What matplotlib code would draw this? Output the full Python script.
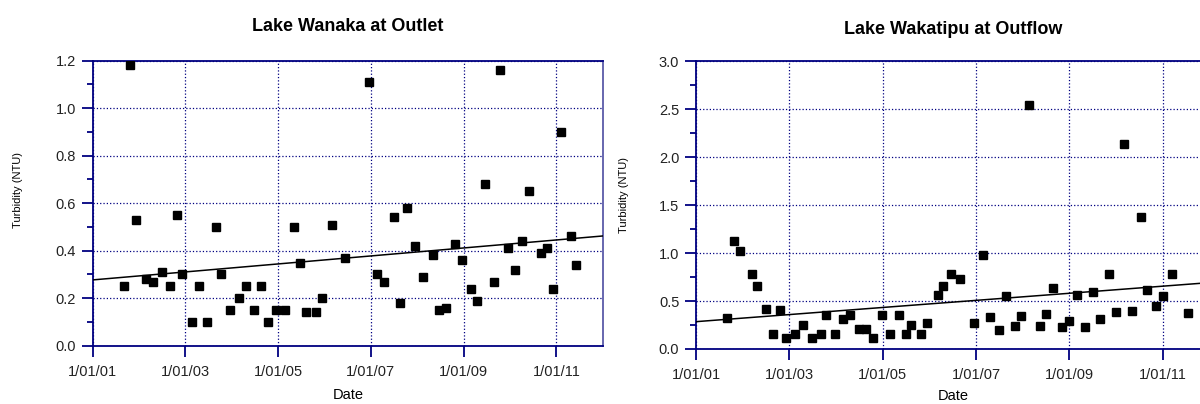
import matplotlib
matplotlib.use("Agg")
import matplotlib.pyplot as plt
import pandas as pd
import numpy as np

plt.rcParams['font.family'] = ['Liberation Sans', 'DejaVu Sans']

# ---- data ----
wanaka_dates = [2001.67, 2001.80, 2001.93, 2002.14, 2002.31, 2002.50, 2002.66, 2002.81, 2002.93, 2003.14,
                2003.29, 2003.46, 2003.67, 2003.77, 2003.97, 2004.15, 2004.30, 2004.48, 2004.63, 2004.78,
                2004.96, 2005.14, 2005.34, 2005.46, 2005.59, 2005.81, 2005.94, 2006.17, 2006.44, 2006.95,
                2007.13, 2007.28, 2007.49, 2007.63, 2007.78, 2007.96, 2008.12, 2008.34, 2008.47, 2008.62,
                2008.82, 2008.97, 2009.15, 2009.28, 2009.45, 2009.66, 2009.78, 2009.96, 2010.11, 2010.26,
                2010.41, 2010.67, 2010.79, 2010.93, 2011.10, 2011.32, 2011.42]
wanaka_ntu = [0.25, 1.18, 0.53, 0.28, 0.27, 0.31, 0.25, 0.55, 0.30, 0.10,
              0.25, 0.10, 0.50, 0.30, 0.15, 0.20, 0.25, 0.15, 0.25, 0.10,
              0.15, 0.15, 0.50, 0.35, 0.14, 0.14, 0.20, 0.51, 0.37, 1.11,
              0.30, 0.27, 0.54, 0.18, 0.58, 0.42, 0.29, 0.38, 0.15, 0.16,
              0.43, 0.36, 0.24, 0.19, 0.68, 0.27, 1.16, 0.41, 0.32, 0.44,
              0.65, 0.39, 0.41, 0.24, 0.90, 0.46, 0.34]
wanaka_trend = [0.277, 0.462]

wakatipu_dates = [2001.67, 2001.81, 2001.95, 2002.19, 2002.30, 2002.51, 2002.66, 2002.81, 2002.94, 2003.12,
                  2003.30, 2003.48, 2003.68, 2003.79, 2003.99, 2004.16, 2004.31, 2004.49, 2004.65, 2004.80,
                  2004.98, 2005.15, 2005.35, 2005.49, 2005.61, 2005.82, 2005.95, 2006.19, 2006.29, 2006.46,
                  2006.65, 2006.95, 2007.15, 2007.30, 2007.50, 2007.65, 2007.83, 2007.96, 2008.14, 2008.37,
                  2008.49, 2008.65, 2008.85, 2009.00, 2009.16, 2009.34, 2009.51, 2009.66, 2009.84, 2010.01,
                  2010.17, 2010.35, 2010.53, 2010.67, 2010.85, 2011.01, 2011.21, 2011.54]
wakatipu_ntu = [0.32, 1.13, 1.02, 0.78, 0.66, 0.42, 0.16, 0.41, 0.11, 0.16,
                0.25, 0.11, 0.16, 0.35, 0.16, 0.31, 0.35, 0.21, 0.21, 0.11,
                0.35, 0.16, 0.35, 0.16, 0.25, 0.16, 0.27, 0.56, 0.66, 0.78,
                0.73, 0.27, 0.98, 0.33, 0.20, 0.55, 0.24, 0.34, 2.54, 0.24,
                0.37, 0.64, 0.23, 0.29, 0.56, 0.23, 0.59, 0.31, 0.78, 0.39,
                2.14, 0.40, 1.38, 0.62, 0.45, 0.55, 0.78, 0.38]
wakatipu_trend = [0.285, 0.692]

trend_years = [2001.0, 2012.0]
tick_years = [2001, 2003, 2005, 2007, 2009, 2011]
tick_labels = ['1/01/01', '1/01/03', '1/01/05', '1/01/07', '1/01/09', '1/01/11']
titles = ['Lake Wanaka at Outlet', 'Lake Wakatipu at Outflow']


def to_dt(years):
    out = []
    for y in years:
        yi = int(np.floor(y))
        start = pd.Timestamp(year=yi, month=1, day=1)
        end = pd.Timestamp(year=yi + 1, month=1, day=1)
        out.append(start + (end - start) * (y - yi))
    return out


NAVY = '#000080'
W, H = 1200, 404
fig = plt.figure(figsize=(W / 100, H / 100), dpi=100)


def make_axes(px_left, px_right, px_top, px_bottom):
    return fig.add_axes([px_left / W, 1 - px_bottom / H, (px_right - px_left) / W, (px_bottom - px_top) / H])


def style(ax, ymax, ymajor, title, title_base, ylabel_x, ylabel_y, date_y, xc):
    ax.set_xlim(to_dt([2001.0])[0], to_dt([2012.0])[0])
    ax.set_ylim(0, ymax)
    ax.set_xticks(to_dt(tick_years))
    ax.set_xticklabels(tick_labels)
    ax.set_yticks(np.round(np.arange(0, ymax + 1e-9, ymajor), 2))
    ax.set_yticklabels([f'{v:.1f}' for v in np.arange(0, ymax + 1e-9, ymajor)])
    ax.set_yticks(np.arange(ymajor / 2, ymax, ymajor), minor=True)
    ax.tick_params(axis='both', which='major', direction='out', length=8, width=1.3,
                   color=NAVY, labelsize=10.5, labelcolor='#222222')
    ax.tick_params(axis='x', pad=6)
    ax.tick_params(axis='y', pad=4)
    ax.tick_params(axis='y', which='minor', direction='out', length=4.5, width=1.3, color=NAVY)
    ax.tick_params(axis='x', which='minor', length=0)
    ax.grid(True, which='major', color=NAVY, linestyle=':', linewidth=0.9)
    ax.set_axisbelow(True)
    for side in ['left', 'bottom', 'top']:
        ax.spines[side].set_color(NAVY)
        ax.spines[side].set_linewidth(1.3)
    ax.spines['right'].set_color('#5a5aa8')
    ax.spines['right'].set_linewidth(1.3)
    fig.text(xc / W, 1 - title_base / H, title, ha='center', va='baseline', fontsize=13, fontweight='bold')
    fig.text(ylabel_x / W, 1 - ylabel_y / H, 'Turbidity (NTU)', rotation=90, ha='center', va='center', fontsize=8)
    fig.text(xc / W, 1 - date_y / H, 'Date', ha='center', va='center', fontsize=10.5)


ax1 = make_axes(92.7, 602.7, 60.7, 345.7)
ax1.plot(to_dt(wanaka_dates), wanaka_ntu, 's', color='black', markersize=6.2, zorder=3)
ax1.plot(to_dt(trend_years), wanaka_trend, '-', color='black', linewidth=1.1, zorder=3)
style(ax1, 1.2, 0.2, titles[0], 31, 18, 190, 395, 348)

ax2 = make_axes(696, 1209.3, 61.3, 349)
ax2.plot(to_dt(wakatipu_dates), wakatipu_ntu, 's', color='black', markersize=6.2, zorder=3)
ax2.plot(to_dt(trend_years), wakatipu_trend, '-', color='black', linewidth=1.1, zorder=3)
style(ax2, 3.0, 0.5, titles[1], 33.5, 624, 195, 396.5, 953)

fig.savefig('out.png', dpi=100)
